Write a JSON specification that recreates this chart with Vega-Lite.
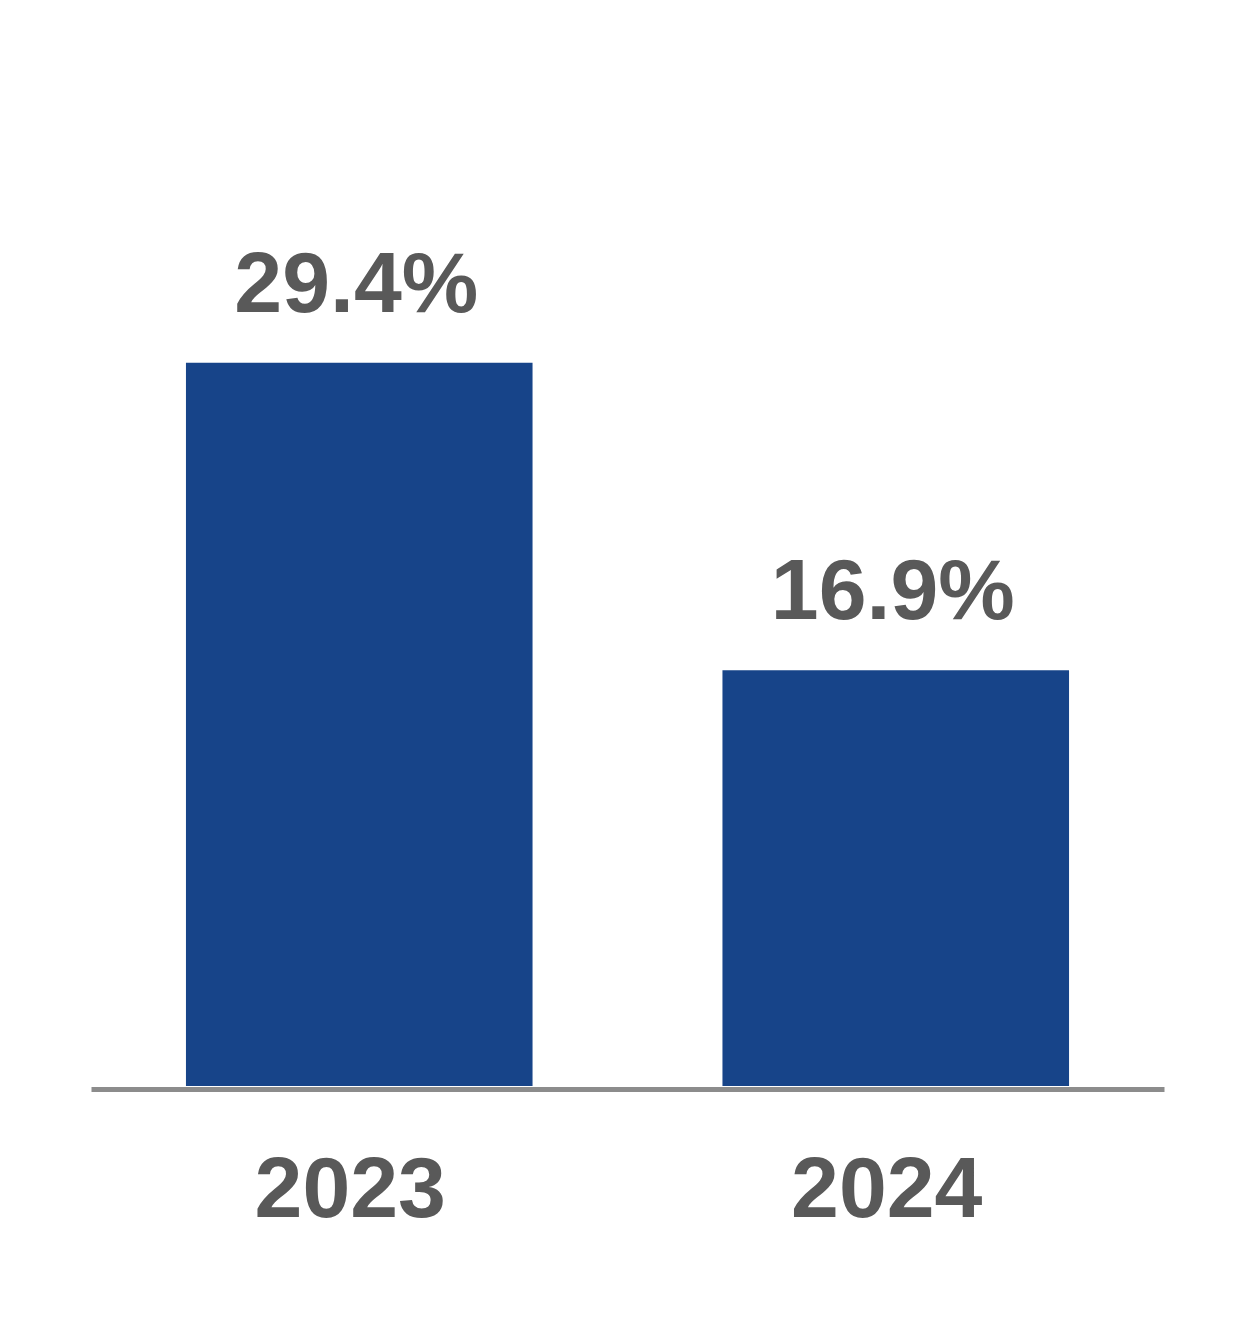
{
  "$schema": "https://vega.github.io/schema/vega-lite/v6.json",
  "autosize": {"type": "none"},
  "width": 1073,
  "height": 984,
  "padding": {"left": 91, "top": 102, "right": 90, "bottom": 240},
  "background": "white",
  "config": {"view": {"stroke": null}},
  "data": {"values": [
    {"year": "2023", "value": 29.4, "label": "29.4%"},
    {"year": "2024", "value": 16.9, "label": "16.9%"}
  ]},
  "encoding": {
    "x": {
      "field": "year", "type": "nominal", "title": null,
      "scale": {"paddingInner": 0.354, "paddingOuter": 0.177},
      "axis": {
        "labelAngle": 0, "ticks": false, "offset": 3, "labelLimit": 1000, "labelOffset": -9,
        "domainColor": "#8C8C8C", "domainWidth": 5,
        "labelFont": "Liberation Sans", "labelFontWeight": "bold", "labelFontSize": 86,
        "labelColor": "#595959", "labelBaseline": "alphabetic", "labelPadding": 127
      }
    },
    "y": {"field": "value", "type": "quantitative", "scale": {"domain": [0, 40]}, "axis": null}
  },
  "layer": [
    {"mark": {"type": "bar", "color": "#174489"}},
    {"mark": {"type": "text", "baseline": "alphabetic", "dy": -51, "dx": -3, "font": "Liberation Sans", "fontWeight": "bold", "fontSize": 86, "color": "#595959"},
     "encoding": {"text": {"field": "label"}}}
  ]
}
